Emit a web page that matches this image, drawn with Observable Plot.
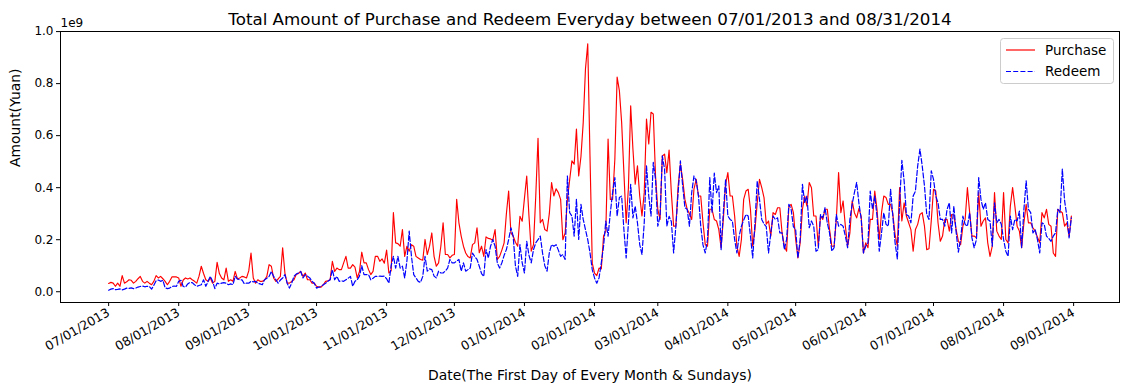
<!DOCTYPE html>
<html>
<head>
<meta charset="utf-8">
<script src="https://cdn.jsdelivr.net/npm/d3@7"></script>
<script src="https://cdn.jsdelivr.net/npm/@observablehq/plot@0.6"></script>
<style>
  html, body { margin: 0; padding: 0; background: #ffffff; }
  #chart { width: 1142px; height: 385px; }
</style>
</head>
<body>
<div id="chart"></div>
<script>
// Daily totals, millions of yuan, starting 2013-07-01 (427 days through 2014-08-31)
const startDate = "2013-07-01";
const purchase = [
  32,36,33,21,33,21,62,33,38,46,
  44,33,40,50,59,40,33,40,33,27,
  40,62,53,59,50,40,27,40,57,57,
  57,53,21,45,53,49,53,46,40,33,
  60,98,70,46,40,53,33,40,113,70,
  53,46,91,40,46,40,78,49,53,59,
  57,53,80,149,53,33,46,40,40,45,
  59,104,98,53,40,49,59,169,72,33,
  33,40,46,66,70,78,59,72,46,46,
  33,33,21,18,18,27,40,42,46,117,
  78,91,85,85,111,136,91,91,104,95,
  53,78,152,111,111,85,66,78,136,136,
  117,126,110,160,72,80,304,188,185,175,
  239,136,175,156,181,175,136,130,124,121,
  201,143,175,226,136,98,111,175,265,143,
  143,130,140,143,355,265,214,175,149,135,
  130,181,188,246,150,175,136,211,205,203,
  198,239,124,136,160,188,300,387,226,214,
  190,175,290,271,360,445,290,156,181,368,
  590,265,278,239,233,300,420,368,396,381,
  355,200,226,355,430,503,490,625,445,520,
  650,857,953,520,110,72,62,91,88,214,
  233,587,355,355,510,825,773,651,458,265,
  400,715,548,413,484,368,291,381,664,568,
  690,683,445,317,278,522,529,458,545,380,
  252,252,407,490,432,355,317,300,278,394,
  432,368,368,265,181,175,317,317,278,272,
  239,169,278,413,458,368,368,291,175,136,
  201,355,387,394,317,175,239,342,432,400,
  362,260,272,214,304,297,323,323,226,175,
  156,329,336,304,201,130,188,317,368,329,
  420,400,291,291,175,291,278,317,317,239,
  175,175,278,458,304,349,252,175,226,349,
  304,284,320,290,149,188,169,278,278,387,
  317,201,304,368,362,336,336,300,220,175,
  400,272,342,291,265,239,156,239,259,297,
  304,252,162,165,272,394,387,265,194,214,
  278,278,233,297,295,240,195,181,252,278,
  400,304,214,214,207,381,252,272,284,188,
  136,175,381,233,214,201,381,201,188,329,
  400,329,252,233,169,265,336,265,265,246,
  233,210,188,304,284,317,259,252,149,136,
  317,310,304,252,265,214,291
];
const redeem = [
  6,10,12,8,9,11,7,10,14,13,
  15,12,14,18,20,22,19,21,20,10,
  25,42,45,40,44,15,12,14,20,22,
  21,40,44,20,18,30,36,35,27,21,
  24,27,46,21,40,59,40,12,33,30,
  33,35,33,27,30,27,59,49,46,46,
  31,33,33,40,38,40,33,30,27,46,
  52,59,78,59,46,33,45,53,66,33,
  14,33,59,68,72,78,53,66,60,53,
  40,33,14,18,20,27,33,40,46,85,
  46,59,40,42,40,46,52,59,21,40,
  46,60,100,66,66,66,46,52,59,59,
  60,59,60,50,33,100,136,91,136,91,
  98,53,120,233,136,66,53,40,36,59,
  136,79,88,85,60,53,79,72,72,80,
  91,124,111,111,118,124,79,111,79,85,
  91,149,135,124,98,70,59,162,130,175,
  201,175,110,91,111,140,162,200,246,214,
  100,59,181,111,72,194,140,111,162,188,
  200,214,149,100,79,150,181,175,181,160,
  136,143,124,445,304,291,214,355,201,336,
  278,239,200,150,85,53,33,53,111,175,
  272,214,304,381,439,291,362,368,239,130,
  265,413,284,329,265,181,143,265,484,368,
  291,497,432,252,291,522,471,252,290,270,
  149,252,381,503,407,323,317,252,381,445,
  426,368,252,180,149,201,439,304,456,381,
  407,162,304,432,291,278,272,201,149,214,
  252,275,297,291,214,130,265,426,355,278,
  260,250,149,226,291,278,284,226,226,162,
  201,336,317,250,239,130,201,413,342,368,
  246,272,252,156,162,297,284,323,265,226,
  156,169,297,252,259,252,214,169,278,336,
  381,420,340,280,149,175,188,387,317,368,
  291,156,226,304,259,252,394,291,188,126,
  342,505,426,297,291,265,368,387,484,548,
  484,407,297,278,465,432,368,342,278,278,
  252,317,342,226,329,230,152,201,291,259,
  252,304,207,169,201,439,355,317,342,278,
  272,175,342,265,278,259,201,156,136,291,
  239,278,272,310,169,317,426,317,304,226,
  239,200,149,265,259,214,205,194,214,226,
  317,304,471,350,291,207,284
];
const yTickValues = [0, 200, 400, 600, 800, 1000];
const monthTickLabels = ["2013-07-01","2013-08-01","2013-09-01","2013-10-01","2013-11-01","2013-12-01",
  "2014-01-01","2014-02-01","2014-03-01","2014-04-01","2014-05-01","2014-06-01","2014-07-01","2014-08-01","2014-09-01"];
const seriesNames = ["Purchase", "Redeem"];
const titleText = "Total Amount of Purchase and Redeem Everyday between 07/01/2013 and 08/31/2014";
const xLabel = "Date(The First Day of Every Month & Sundays)";
const yLabel = "Amount(Yuan)";

const start = new Date(startDate + "T00:00:00Z");
const rows = purchase.map((p, i) => ({date: d3.utcDay.offset(start, i), purchase: p, redeem: redeem[i]}));

// matplotlib-like 5% margins
const t0 = +rows[0].date, t1 = +rows[rows.length - 1].date;
const xPad = (t1 - t0) * 0.05;
const allVals = purchase.concat(redeem);
const vMin = d3.min(allVals), vMax = d3.max(allVals);
const yPad = (vMax - vMin) * 0.05;

const monthTicks = monthTickLabels.map(s => new Date(s + "T00:00:00Z"));
const fmt = d3.utcFormat("%m/%d/%Y");

const chart = Plot.plot({
  width: 1142,
  height: 385,
  marginLeft: 60,
  marginRight: 23,
  marginTop: 31,
  marginBottom: 83,
  style: {fontFamily: "DejaVu Sans", fontSize: "12px", color: "#000", background: "#fff"},
  x: {type: "utc", domain: [new Date(t0 - xPad), new Date(t1 + xPad)]},
  y: {domain: [vMin - yPad, vMax + yPad]},
  marks: [
    Plot.lineY(rows, {x: "date", y: "purchase", stroke: "#ff0000", strokeWidth: 1.15}),
    Plot.lineY(rows, {x: "date", y: "redeem", stroke: "#0000ff", strokeWidth: 1.2, strokeDasharray: "5,2.2"}),
    Plot.frame({stroke: "#000", strokeWidth: 1}),
    Plot.axisX({ticks: monthTicks, tickFormat: fmt, tickRotate: -30, tickSize: 4, tickPadding: 5, label: null, fontSize: 12.5}),
    Plot.axisY({ticks: yTickValues, tickFormat: v => (v / 1000).toFixed(1), tickSize: 4, tickPadding: 3, label: null, fontSize: 12}),
    Plot.text([titleText], {frameAnchor: "top", dy: -18, fontSize: 16.7}),
    Plot.text(["1e9"], {frameAnchor: "top-left", dy: -13, textAnchor: "start", fontSize: 12}),
    Plot.text([yLabel], {frameAnchor: "left", dx: -45, rotate: -90, fontSize: 13.9}),
    Plot.text([xLabel], {frameAnchor: "bottom", dy: 77, fontSize: 13.9})
  ]
});
document.getElementById("chart").appendChild(chart);

// Legend (upper right, inside the axes)
const svg = d3.select(chart);
const lg = svg.append("g").attr("transform", "translate(1000,38)")
  .attr("font-family", "DejaVu Sans").attr("font-size", 13.5).attr("text-anchor", "start");
lg.append("rect").attr("x", 0.5).attr("y", 0.5).attr("width", 113).attr("height", 45).attr("rx", 3)
  .attr("fill", "#fff").attr("fill-opacity", 0.8).attr("stroke", "#cccccc");
const legendStyles = [{color: "#ff0000", dash: null}, {color: "#0000ff", dash: "5,2.2"}];
seriesNames.forEach((name, i) => {
  const yy = 12 + i * 21.5;
  lg.append("line").attr("x1", 6).attr("x2", 35).attr("y1", yy).attr("y2", yy)
    .attr("stroke", legendStyles[i].color).attr("stroke-width", 1.2)
    .attr("stroke-dasharray", legendStyles[i].dash);
  lg.append("text").attr("x", 45).attr("y", yy).attr("dy", "0.35em").attr("text-anchor", "start")
    .attr("fill", "#000").text(name);
});
</script>
</body>
</html>
